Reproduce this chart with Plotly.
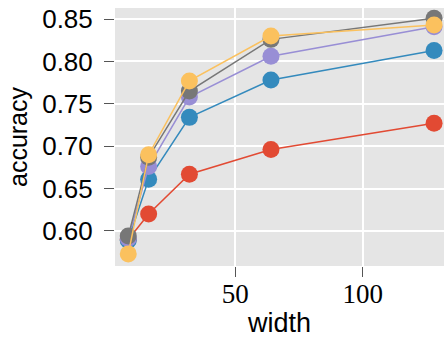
import plotly.graph_objects as go

widths = [8, 16, 32, 64, 128]
series_red = [0.590, 0.620, 0.667, 0.696, 0.727]
series_blue = [0.589, 0.661, 0.734, 0.778, 0.813]
series_purple = [0.591, 0.676, 0.758, 0.806, 0.841]
series_gray = [0.594, 0.687, 0.765, 0.826, 0.851]
series_yellow = [0.573, 0.690, 0.777, 0.830, 0.843]

y_ticks = [0.60, 0.65, 0.70, 0.75, 0.80, 0.85]
y_tick_labels = ["0.60", "0.65", "0.70", "0.75", "0.80", "0.85"]
x_ticks = [50, 100]
x_tick_labels = ["50", "100"]

colors = ["#E24A33", "#348ABD", "#988ED5", "#777777", "#FBC15E"]
series = [series_red, series_blue, series_purple, series_gray, series_yellow]

fig = go.Figure()
for s, c in zip(series, colors):
    fig.add_trace(go.Scatter(
        x=widths, y=s, mode="lines+markers",
        line=dict(color=c, width=1.5),
        marker=dict(color=c, size=17, line=dict(width=0)),
        showlegend=False, cliponaxis=False,
    ))

fig.update_layout(
    width=444, height=338,
    margin=dict(l=115, r=0, t=8, b=72),
    paper_bgcolor="white",
    plot_bgcolor="#E5E5E5",
    font=dict(family="Liberation Sans, Arial, sans-serif", color="black"),
)
fig.update_xaxes(
    range=[2.8, 131.9], tickvals=x_ticks, ticktext=x_tick_labels,
    tickfont=dict(family="Liberation Serif, serif", size=27),
    ticks="outside", ticklen=10, tickcolor="#555555", tickwidth=1,
    ticklabelstandoff=-6,
    showgrid=True, gridcolor="white", gridwidth=1.5, zeroline=False,
    showline=False,
    title=dict(text="width", font=dict(size=27), standoff=7),
)
fig.update_yaxes(
    range=[0.5587, 0.863], tickvals=y_ticks, ticktext=y_tick_labels,
    tickfont=dict(size=26),
    ticks="outside", ticklen=10, tickcolor="#555555", tickwidth=1,
    ticklabelstandoff=6,
    showgrid=True, gridcolor="white", gridwidth=1.5, zeroline=False,
    showline=False,
    title=dict(text="accuracy", font=dict(size=25), standoff=7),
)

fig.write_html(
    "out.html",
    config={"displayModeBar": False},
    post_script="document.body.style.margin='0';document.body.style.overflow='hidden';",
)
